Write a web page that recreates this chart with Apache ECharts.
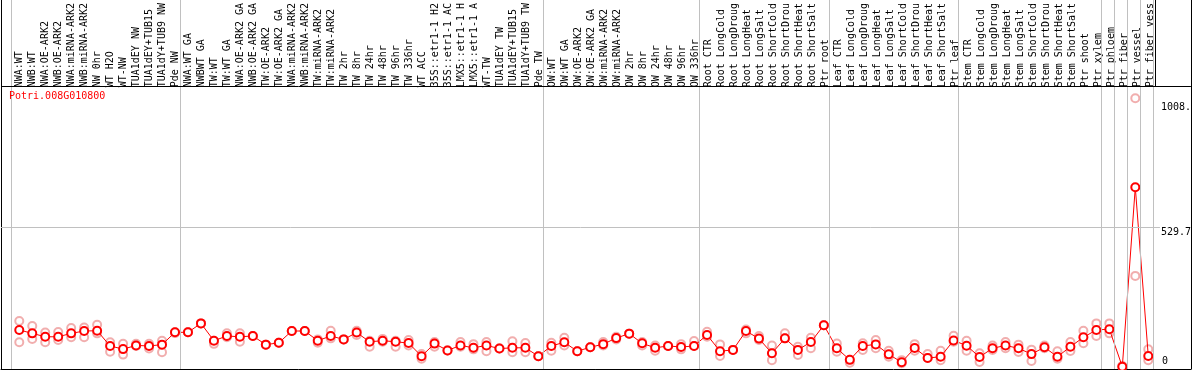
<!DOCTYPE html>
<html>
<head>
<meta charset="utf-8">
<script src="https://cdn.jsdelivr.net/npm/echarts@6/dist/echarts.min.js"></script>
<style>
html,body{margin:0;padding:0;background:#fff;}
#chart{width:1194px;height:370px;}
</style>
</head>
<body>
<div id="chart"></div>
<script>
// ---------- data ----------
const categories = [
  "NWA:WT","NWB:WT","NWA:OE-ARK2","NWB:OE-ARK2","NWA:miRNA-ARK2","NWB:miRNA-ARK2","NW 0hr","WT H2O","WT-NW","TUA1dEY NW","TUA1dEY+TUB15","TUA1dY+TUB9 NW","Pde NW",
  "NWA:WT GA","NWBWT GA","TW:WT","TW:WT GA","NWA:OE-ARK2 GA","NWB:OE-ARK2 GA","TW:OE-ARK2","TW:OE-ARK2 GA","NWA:miRNA-ARK2","NWB:miRNA-ARK2","TW:miRNA-ARK2","TW:miRNA-ARK2 ","TW 2hr","TW 8hr","TW 24hr","TW 48hr","TW 96hr","TW 336hr","WT ACC","35S::etr1-1 H2","35S::etr1-1 AC","LMX5::etr1-1 H","LMX5::etr1-1 A","WT-TW","TUA1dEY TW","TUA1dEY+TUB15 ","TUA1dY+TUB9 TW","Pde TW",
  "OW:WT","OW:WT GA","OW:OE-ARK2","OW:OE-ARK2 GA","OW:miRNA-ARK2","OW:miRNA-ARK2 ","OW 2hr","OW 8hr","OW 24hr","OW 48hr","OW 96hr","OW 336hr",
  "Root CTR","Root LongCold","Root LongDroug","Root LongHeat","Root LongSalt","Root ShortCold","Root ShortDrou","Root ShortHeat","Root ShortSalt","Ptr root",
  "Leaf CTR","Leaf LongCold","Leaf LongDroug","Leaf LongHeat","Leaf LongSalt","Leaf ShortCold","Leaf ShortDrou","Leaf ShortHeat","Leaf ShortSalt","Ptr leaf",
  "Stem CTR","Stem LongCold","Stem LongDroug","Stem LongHeat","Stem LongSalt","Stem ShortCold","Stem ShortDrou","Stem ShortHeat","Stem ShortSalt","Ptr shoot","Ptr xylem",
  "Ptr phloem","Ptr fiber","Ptr vessel","Ptr fiber vess"
];
const meanValues = [
  140,127,114,114,127,136,137,79,67,81,79,84,131,
  131,165,99,117,114,117,84,91,136,136,99,117,104,130,95,99,95,90,40,88,62,81,72,81,69,72,72,40,
  79,93,59,74,86,109,126,89,72,79,75,79,
  121,59,64,136,107,51,108,64,94,158,
  70,26,79,85,47,17,71,33,38,100,
  80,37,70,81,70,48,74,38,76,112,140,
  143,0,684,41
];
const repHigh = [
  174,155,130,132,147,149,160,93,87,87,87,99,131,
  131,165,99,127,127,117,84,91,136,136,104,137,104,137,99,106,99,102,48,94,62,94,86,94,69,97,90,40,
  91,110,59,74,94,114,126,94,81,79,86,98,
  133,85,64,142,117,81,127,76,110,158,
  88,26,89,102,61,25,86,48,61,118,
  99,51,81,94,84,65,81,59,94,137,165,
  165,3,1023,66
];
const repLow = [
  93,106,93,102,112,112,127,57,46,79,69,55,128,
  131,165,87,112,95,117,84,91,136,136,91,108,104,121,76,95,76,81,30,76,62,76,66,59,69,55,55,40,
  61,81,59,74,81,104,126,81,61,79,66,79,
  114,41,64,127,102,25,108,45,70,158,
  57,15,64,70,38,13,61,33,25,95,
  61,18,64,70,56,22,70,30,60,89,117,
  127,0,346,25
];
const groupStarts = [0,13,41,53,63,73,84,85,86,87];
const yTickValues = [529.7, 1008];
const yTickLabels = ["529.7", "1008."];
const titleText = "Potri.008G010800";

// ---------- layout constants ----------
const X_MIN = -1.408, X_MAX = 90.285;   // value axis spanning full frame
const Y_MIN = -8.8, Y_MAX = 1397.5;       // value axis spanning full frame height
const Y_HEADER = 1069.7;                  // value at the header/plot divider
const SEP_OFF = 8 / 13;
const MONO = '"DejaVu Sans Mono", "Liberation Mono", monospace';

const meanData = meanValues.map((v, i) => [i, v]);
const hiData = repHigh.map((v, i) => [i, v]);
const loData = repLow.map((v, i) => [i, v]);

const sepLines = groupStarts.map(k => ({ xAxis: k - SEP_OFF }));
sepLines.push({ xAxis: 87 + 5 / 13 });

const chart = echarts.init(document.getElementById('chart'), null, { renderer: 'canvas' });
chart.setOption({
  animation: false,
  backgroundColor: '#fff',
  title: {
    text: titleText, left: 9, top: 91, padding: 0,
    textStyle: { color: '#ff0000', fontSize: 10, fontWeight: 'normal', fontFamily: MONO }
  },
  grid: [
    { left: 1, right: 1, top: 0, bottom: 1, containLabel: false },
    { left: 12.8, right: 37.2, top: 86, bottom: 1, containLabel: false }
  ],
  xAxis: [
    { type: 'value', gridIndex: 0, min: X_MIN, max: X_MAX, position: 'bottom',
      axisLine: { show: true, onZero: false, lineStyle: { color: '#000', width: 1 } },
      axisTick: { show: false }, axisLabel: { show: false }, splitLine: { show: false } },
    { type: 'category', gridIndex: 1, data: categories, position: 'top', boundaryGap: true,
      axisLine: { show: false }, axisTick: { show: false }, splitLine: { show: false },
      axisLabel: { show: true, interval: 0, rotate: 90, margin: 3, color: '#000',
        fontSize: 10, fontFamily: MONO } }
  ],
  yAxis: [
    { type: 'value', gridIndex: 0, min: Y_MIN, max: Y_MAX, position: 'right',
      axisLine: { show: true, onZero: false, lineStyle: { color: '#000', width: 1 } },
      axisTick: { show: false }, splitLine: { show: false },
      axisLabel: { show: true, inside: true, align: 'left', margin: 30, verticalAlign: 'top',
        customValues: yTickValues,
        formatter: (v) => { const i = yTickValues.indexOf(v); return i >= 0 ? yTickLabels[i] : ''; },
        color: '#000', fontSize: 10, fontFamily: MONO } },
    { type: 'value', gridIndex: 0, min: Y_MIN, max: Y_MAX, position: 'right',
      axisLine: { show: false }, axisTick: { show: false }, splitLine: { show: false },
      axisLabel: { show: true, inside: true, align: 'left', margin: 29, verticalAlign: 'bottom',
        customValues: [0], formatter: () => '0',
        color: '#000', fontSize: 10, fontFamily: MONO } },
    { type: 'value', gridIndex: 0, min: Y_MIN, max: Y_MAX, position: 'left',
      axisLine: { show: true, onZero: false, lineStyle: { color: '#000', width: 1 } },
      axisTick: { show: false }, splitLine: { show: false }, axisLabel: { show: false } },
    { type: 'value', gridIndex: 1, show: false }
  ],
  series: [
    { type: 'scatter', xAxisIndex: 0, yAxisIndex: 0, data: hiData, symbol: 'emptyCircle', symbolSize: 8,
      itemStyle: { color: '#ee9a9a', borderColor: '#ee9a9a', borderWidth: 1.3 }, z: 2, silent: true },
    { type: 'scatter', xAxisIndex: 0, yAxisIndex: 0, data: loData, symbol: 'emptyCircle', symbolSize: 8,
      itemStyle: { color: '#ee9a9a', borderColor: '#ee9a9a', borderWidth: 1.3 }, z: 2, silent: true },
    { type: 'line', xAxisIndex: 0, yAxisIndex: 0, data: meanData, symbol: 'emptyCircle', symbolSize: 8,
      showAllSymbol: true,
      lineStyle: { color: '#ff0000', width: 1 },
      itemStyle: { color: '#ff0000', borderColor: '#ff0000', borderWidth: 1.6 }, z: 3, silent: true,
      markLine: {
        silent: true, symbol: 'none', label: { show: false }, animation: false,
        data: [
          ...sepLines.map(d => Object.assign({ lineStyle: { color: '#c0c0c0', width: 1, type: 'solid' } }, d)),
          [{ coord: [X_MIN, 529.7], lineStyle: { color: '#c0c0c0', width: 1, type: 'solid' } }, { coord: [87.9, 529.7] }],
          [{ coord: [X_MIN, Y_HEADER], lineStyle: { color: '#000', width: 1, type: 'solid' } }, { coord: [X_MAX, Y_HEADER] }],
          [{ coord: [87.5, Y_HEADER], lineStyle: { color: '#000', width: 1, type: 'solid' } }, { coord: [87.5, Y_MAX] }]
        ]
      }
    }
  ]
});
</script>
</body>
</html>
